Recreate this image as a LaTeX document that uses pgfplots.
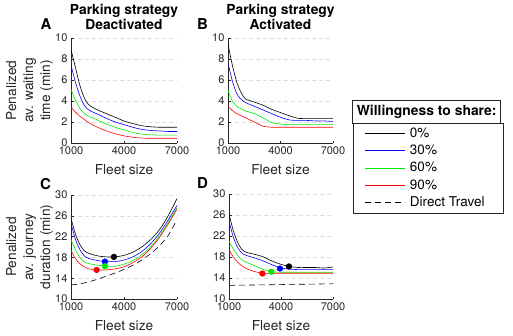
\documentclass[border=0pt]{standalone}
\usepackage{fontspec}
\setmainfont{TeX Gyre Heros}
\usepackage{pgfplots}
\pgfplotsset{compat=1.18}
\definecolor{axgray}{RGB}{38,38,38}
\definecolor{gridgray}{RGB}{222,222,222}
\definecolor{cblue}{RGB}{0,0,255}
\definecolor{cgreen}{RGB}{0,235,0}
\definecolor{cred}{RGB}{255,0,0}
\pgfplotsset{
 panel/.style={
  scale only axis, width=106pt, height=105pt,
  axis x line*=bottom, axis y line*=left,
  axis line style={axgray, line width=0.5pt},
  xmin=1000, xmax=7000, xtick={1000,4000,7000},
  tick align=inside, major tick length=2.5pt,
  tick style={axgray, line width=0.5pt},
  ticklabel style={font=\fontsize{11}{13}\selectfont, text=axgray},
  /pgf/number format/assume math mode=true,
  /pgf/number format/1000 sep={},
  ymajorgrids, grid style={gridgray, dash pattern=on 4pt off 3pt, line width=0.5pt},
  label style={font=\fontsize{13.7}{17}\selectfont, text=axgray},
  xlabel={Fleet size},
  xlabel style={at={(axis description cs:0.5,0)}, anchor=center, yshift=-27pt},
  ylabel style={at={(axis description cs:-0.39,0.5)}, anchor=center, align=center},
  title style={at={(axis description cs:0.5,1)}, anchor=south, yshift=2pt, inner sep=0pt, align=center, font=\bfseries\fontsize{13.8}{15}\selectfont},
  every axis plot/.append style={line width=0.6pt, smooth, tension=0.45, mark=none},
 },
 dot/.style={only marks, mark=*, mark size=2.8pt},
}
\newcommand{\legtxt}[1]{\makebox[80pt][l]{#1}}
\begin{document}
\begin{tikzpicture}[x=1pt,y=1pt]
\path[use as bounding box] (0,0) rectangle (513,-335);

% A
\begin{axis}[panel, at={(71pt,-143pt)}, anchor=south west,
  ymin=0, ymax=10, ytick={0,2,...,10},
  title={Parking strategy\\Deactivated},
  ylabel={Penalized\\av. waiting\\time (min)}]
\addplot[black] coordinates {(1000,8.9)(1250,7.2)(1500,5.5)(1750,4.3)(2000,3.65)(2500,3.15)(3000,2.8)(3500,2.45)(4000,2.1)(4500,1.85)(5000,1.65)(5500,1.55)(6000,1.5)(6500,1.5)(7000,1.5)};
\addplot[cblue] coordinates {(1000,7.4)(1250,5.8)(1500,4.5)(1750,3.6)(2000,3.15)(2500,2.75)(3000,2.35)(3500,2.0)(4000,1.75)(4500,1.5)(5000,1.3)(5500,1.2)(6000,1.15)(6500,1.1)(7000,1.1)};
\addplot[cgreen] coordinates {(1000,5.1)(1250,4.1)(1500,3.3)(1750,2.8)(2000,2.55)(2500,2.2)(3000,1.8)(3500,1.5)(4000,1.25)(4500,1.0)(5000,0.85)(5500,0.78)(6000,0.75)(6500,0.75)(7000,0.75)};
\addplot[cred] coordinates {(1000,3.4)(1250,2.95)(1500,2.55)(1750,2.25)(2000,1.95)(2500,1.5)(3000,1.15)(3500,0.88)(4000,0.68)(4500,0.55)(5000,0.47)(5500,0.45)(6000,0.45)(6500,0.45)(7000,0.45)};
\end{axis}

% B
\begin{axis}[panel, at={(228pt,-143pt)}, anchor=south west, width=105pt,
  ymin=0, ymax=10, ytick={0,2,...,10},
  title={Parking strategy\\Activated},
  legend style={at={(axis description cs:1.188,0.1905)}, anchor=north west,
    draw=axgray, line width=0.5pt, inner xsep=12pt, inner ysep=4pt,
    row sep=4pt, column sep=3pt, font=\fontsize{13.5}{16}\selectfont,
    nodes={inner sep=1pt}},
  legend cell align=left,
  legend image code/.code={\draw[#1] (0pt,0pt) -- (40pt,0pt);}]
\addplot[black, forget plot] coordinates {(1000,9.4)(1250,7.4)(1500,5.8)(1750,4.8)(2000,4.2)(2500,3.9)(3000,3.6)(3500,3.2)(4000,2.9)(4500,2.6)(5000,2.35)(5500,2.35)(6000,2.35)(6500,2.35)(7000,2.35)};
\addplot[cblue, forget plot] coordinates {(1000,7.6)(1250,5.9)(1500,4.7)(1750,4.15)(2000,3.85)(2500,3.5)(3000,3.15)(3500,2.8)(4000,2.45)(4500,2.2)(5000,2.15)(5500,2.15)(6000,2.1)(6500,2.1)(7000,2.05)};
\addplot[cgreen, forget plot] coordinates {(1000,5.0)(1250,4.0)(1500,3.5)(1750,3.25)(2000,3.05)(2500,2.8)(3000,2.4)(3500,1.95)(4000,1.8)(4500,1.75)(5000,1.75)(5500,1.75)(6000,1.75)(6500,1.75)(7000,1.75)};
\addplot[cred, forget plot] coordinates {(1000,3.5)(1250,3.1)(1500,2.8)(1750,2.6)(2000,2.4)(2500,2.0)(3000,1.6)(3500,1.5)(4000,1.5)(4500,1.5)(5000,1.5)(5500,1.5)(6000,1.5)(6500,1.5)(7000,1.5)};
\addlegendimage{draw=black, line width=0.8pt}
\addlegendentry{\legtxt{0\%}}
\addlegendimage{draw=blue, line width=0.8pt}
\addlegendentry{\legtxt{30\%}}
\addlegendimage{draw=cgreen, line width=0.8pt}
\addlegendentry{\legtxt{60\%}}
\addlegendimage{draw=red, line width=1pt}
\addlegendentry{\legtxt{90\%}}
\addlegendimage{draw=black, line width=0.6pt, dash pattern=on 6pt off 4pt}
\addlegendentry{\legtxt{Direct Travel}}
\end{axis}

% C
\begin{axis}[panel, at={(71pt,-299pt)}, anchor=south west, height=104pt,
  ymin=10, ymax=30, ytick={10,14,...,30},
  ylabel={Penalized\\av. journey\\duration (min)}]
\addplot[black] coordinates {(1000,25.5)(1250,22.5)(1500,20.5)(1750,19.3)(2000,18.8)(2500,18.3)(3000,18.1)(3500,18.1)(4000,18.4)(4500,19.0)(5000,20.0)(5500,21.4)(6000,23.3)(6500,26.0)(7000,29.3)};
\addplot[cblue] coordinates {(1000,24.5)(1250,21.5)(1500,19.5)(1750,18.3)(2000,17.8)(2500,17.4)(3000,17.2)(3500,17.2)(4000,17.5)(4500,18.1)(5000,19.1)(5500,20.6)(6000,22.6)(6500,25.2)(7000,28.0)};
\addplot[cgreen] coordinates {(1000,21.4)(1250,19.5)(1500,18.0)(1750,17.2)(2000,16.8)(2500,16.5)(3000,16.3)(3500,16.3)(4000,16.7)(4500,17.4)(5000,18.5)(5500,20.0)(6000,22.1)(6500,24.7)(7000,27.6)};
\addplot[cred] coordinates {(1000,19.3)(1250,17.8)(1500,16.8)(1750,16.2)(2000,15.8)(2500,15.6)(3000,15.6)(3500,15.8)(4000,16.2)(4500,17.0)(5000,18.1)(5500,19.7)(6000,21.8)(6500,24.4)(7000,27.3)};
\addplot[black, dash pattern=on 6pt off 4pt] coordinates {(1000,12.7)(1500,12.9)(2000,13.3)(2500,13.8)(3000,14.4)(3500,15.0)(4000,15.7)(4500,16.5)(5000,17.5)(5500,18.7)(6000,20.2)(6500,22.2)(7000,25.3)};
\addplot[dot, black] coordinates {(3430,18.1)};
\addplot[dot, cblue] coordinates {(2920,17.2)};
\addplot[dot, cgreen] coordinates {(2920,16.3)};
\addplot[dot, cred] coordinates {(2450,15.6)};
\end{axis}

% D
\begin{axis}[panel, at={(229pt,-299pt)}, anchor=south west, width=104pt, height=105pt,
  ymin=10, ymax=30, ytick={10,14,...,30}]
\addplot[black] coordinates {(1000,26.2)(1250,23.0)(1500,20.8)(1750,19.4)(2000,18.9)(2500,18.5)(3000,18.0)(3500,17.2)(4000,16.6)(4500,16.2)(5000,16.0)(5500,16.0)(6000,16.0)(6500,15.9)(7000,16.1)};
\addplot[cblue] coordinates {(1000,24.8)(1250,21.8)(1500,19.8)(1750,18.7)(2000,18.3)(2500,17.8)(3000,17.2)(3500,16.5)(4000,15.9)(4500,15.7)(5000,15.6)(5500,15.6)(6000,15.6)(6500,15.6)(7000,15.6)};
\addplot[cgreen] coordinates {(1000,21.0)(1250,19.5)(1500,18.3)(1750,17.5)(2000,17.0)(2500,16.3)(3000,15.6)(3500,15.2)(4000,15.1)(4500,15.1)(5000,15.1)(5500,15.1)(6000,15.1)(6500,15.1)(7000,15.1)};
\addplot[cred] coordinates {(1000,19.4)(1250,18.0)(1500,17.0)(1750,16.3)(2000,15.8)(2500,15.2)(3000,14.9)(3500,14.9)(4000,14.9)(4500,14.9)(5000,14.9)(5500,14.9)(6000,14.9)(6500,14.9)(7000,14.9)};
\addplot[black, dash pattern=on 6pt off 4pt] coordinates {(1000,12.6)(4000,12.75)(7000,12.9)};
\addplot[dot, black] coordinates {(4460,16.2)};
\addplot[dot, cblue] coordinates {(3940,15.8)};
\addplot[dot, cgreen] coordinates {(3440,15.2)};
\addplot[dot, cred] coordinates {(2930,14.85)};
\end{axis}

% legend title box
\draw[axgray, line width=0.5pt] (352.7,-123) rectangle (500.7,-100);
\node[font=\bfseries\fontsize{13.9}{16}\selectfont] at (426.7,-111.5) {Willingness to share:};

% panel letters
\node[font=\bfseries\fontsize{15}{17}\selectfont] at (46,-24) {A};
\node[font=\bfseries\fontsize{15}{17}\selectfont] at (202.5,-24) {B};
\node[font=\bfseries\fontsize{15}{17}\selectfont] at (45.5,-184) {C};
\node[font=\bfseries\fontsize{15}{17}\selectfont] at (202.5,-183) {D};
\end{tikzpicture}
\end{document}
